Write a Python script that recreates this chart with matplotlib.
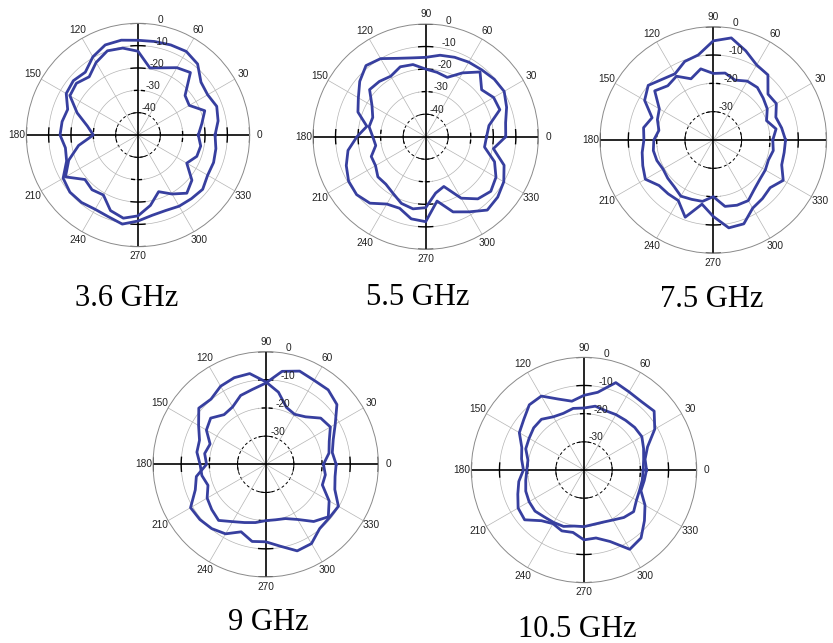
import numpy as np
import matplotlib.pyplot as plt

# measured angles (deg) for every pattern
angles = np.arange(0, 360, 10)

freq_labels = ["3.6 GHz", "5.5 GHz", "7.5 GHz", "9 GHz", "10.5 GHz"]
r_floor = [-50, -50, -40, -40, -40]

# normalised gain (dB), two cuts per frequency
g36_a = [-15.5, -13.6, -12.5, -14.0, -13.2, -8.5, -6.8, -7.1, -7.5, -7.6, -6.9, -7.1,
         -9.6, -13.3, -12.2, -12.9, -16.5, -15.5, -15.1, -17.0, -16.0, -11.3, -10.2, -10.6,
         -11.6, -11.1, -9.5, -11.5, -13.5, -14.0, -13.2, -12.8, -12.2, -14.0, -14.0, -14.6]
g36_b = [-23.0, -21.0, -18.2, -23.5, -22.5, -13.5, -15.2, -18.0, -19.5, -12.5, -10.5, -9.9,
         -12.5, -16.0, -14.0, -14.8, -21.0, -27.0, -30.0, -23.0, -17.0, -12.5, -19.0, -18.0,
         -19.0, -14.0, -12.2, -13.8, -18.0, -23.0, -19.5, -16.0, -18.5, -24.8, -22.0, -21.5]

g55_a = [-14.5, -14.0, -11.8, -9.8, -10.3, -11.3, -11.8, -12.5, -13.3, -14.8, -14.5, -13.0,
         -10.0, -8.8, -11.8, -15.5, -18.0, -23.5, -19.5, -15.0, -12.5, -10.5, -10.0, -11.5,
         -15.5, -16.2, -13.0, -12.3, -21.0, -14.5, -11.5, -7.5, -8.3, -10.0, -13.0, -19.5]
g55_b = [-23.0, -21.5, -15.0, -15.2, -17.6, -12.5, -17.3, -22.0, -21.0, -20.0, -17.5, -17.0,
         -19.0, -18.0, -17.5, -22.5, -25.0, -24.5, -26.5, -27.5, -24.3, -24.3, -22.3, -22.5,
         -21.0, -18.5, -17.5, -18.5, -24.6, -26.5, -18.5, -14.0, -12.3, -14.0, -17.5, -23.5]

g75_a = [-14.5, -15.5, -16.5, -14.3, -14.8, -10.0, -9.4, -6.5, -3.4, -5.0, -9.5, -10.5,
         -13.0, -12.0, -10.0, -12.0, -17.0, -15.0, -15.5, -14.5, -13.5, -12.3, -15.0, -15.2,
         -15.3, -11.0, -17.0, -13.0, -8.5, -8.5, -12.2, -13.0, -13.8, -11.5, -14.3, -14.6]
g75_b = [-19.0, -17.5, -20.0, -18.0, -17.0, -15.8, -16.0, -17.5, -16.0, -16.5, -14.5, -17.0,
         -14.0, -15.0, -13.0, -18.0, -19.0, -20.5, -19.0, -18.5, -18.8, -19.5, -19.0, -18.5,
         -17.1, -17.7, -18.0, -20.0, -16.2, -15.5, -15.3, -17.4, -18.5, -18.8, -19.3, -18.5]

g90_a = [-19.5, -17.2, -16.0, -13.5, -14.5, -18.0, -19.5, -18.5, -14.0, -10.7, -7.3, -7.3,
         -8.0, -9.8, -9.0, -12.5, -15.0, -15.2, -16.7, -17.0, -18.2, -16.0, -15.0, -14.0,
         -16.5, -18.0, -19.0, -20.0, -20.0, -19.5, -17.4, -13.5, -11.0, -14.0, -18.6, -18.5]
g90_b = [-15.0, -16.0, -14.5, -11.5, -7.0, -5.5, -5.6, -4.8, -6.5, -11.2, -13.0, -14.0,
         -16.5, -17.0, -14.5, -15.7, -19.0, -18.0, -19.0, -15.0, -13.4, -9.2, -9.5, -10.2,
         -11.5, -14.5, -12.2, -12.5, -10.5, -7.3, -7.5, -10.2, -10.5, -10.2, -13.9, -15.0]

g105_a = [-17.8, -18.0, -16.0, -11.0, -7.5, -8.3, -8.0, -7.0, -12.0, -13.5, -15.2, -13.2,
          -9.7, -9.8, -12.1, -13.5, -16.5, -17.5, -18.5, -16.5, -15.0, -13.0, -12.5, -16.5,
          -18.0, -17.0, -17.5, -15.2, -15.5, -13.0, -7.5, -8.5, -12.0, -15.0, -18.5, -18.3]
g105_b = [-19.0, -18.5, -17.5, -16.3, -16.5, -17.0, -17.3, -17.6, -17.0, -18.0, -17.8, -18.6,
          -18.2, -16.5, -16.7, -17.5, -18.0, -19.8, -19.7, -19.0, -18.0, -17.5, -17.3, -18.2,
          -18.5, -18.7, -19.8, -19.9, -20.4, -20.3, -19.5, -18.0, -17.0, -18.5, -19.0, -19.0]

curves = [(g36_a, g36_b), (g55_a, g55_b), (g75_a, g75_b), (g90_a, g90_b), (g105_a, g105_b)]

# panel centres and outer radius in pixels (from top-left)
W, H = 833, 643
centres = [(138, 135), (425.7, 136.7), (713.3, 140), (265.7, 464.3), (584, 470)]
radius = [111.7, 112.7, 113.3, 112.7, 112.7]
label_pos = [(126.5, 306), (418, 305), (712, 307), (268, 630), (577, 637)]
# angle labels that fall outside the original picture
hidden = [{90}, set(), {0}, set(), set()]

line_col = "#373f9f"
grid_col = "#b4b4b4"


def draw_panel(ax, rmin, pair, R, skip):
    ax.set_rlim(rmin, 0)
    ax.grid(False)
    ax.set_xticks([])
    ax.set_yticks([])
    ax.spines["polar"].set_color("#8a8a8a")
    ax.spines["polar"].set_linewidth(0.7)

    full = np.linspace(0, 2 * np.pi, 361)
    rings = list(range(rmin + 10, 0, 10))
    for i, r in enumerate(rings):
        if i == 0:
            ax.plot(full, np.full_like(full, r), color="k", lw=0.7, ls=(0, (3, 2.5)))
        else:
            ax.plot(full, np.full_like(full, r), color=grid_col, lw=0.5)
    for a in range(0, 360, 30):
        if a % 90:
            ax.plot([np.deg2rad(a)] * 2, [rmin, 0], color=grid_col, lw=0.5)
    for a in (0, 90, 180, 270):
        ax.plot([np.deg2rad(a)] * 2, [rmin, 0], color="k", lw=1.2)

    # tick marks where the rings cross the axes
    for i, r in enumerate(rings + [0]):
        rpx = R * (r - rmin) / (0 - rmin)
        half = 7.0 / rpx
        for a in (0, 90, 180, 270):
            t = np.linspace(np.deg2rad(a) - half, np.deg2rad(a) + half, 15)
            ls = (0, (3, 2)) if i == 1 else "-"
            ax.plot(t, np.full_like(t, r), color="k", lw=1.0 if i else 0.7, ls=ls)

    th = np.deg2rad(np.append(angles, 360))
    for g in pair:
        ax.plot(th, np.append(g, g[0]), color=line_col, lw=2.0, solid_joinstyle="round")

    # ring labels
    for r in rings + [0]:
        ax.text(np.deg2rad(80), r, str(r), ha="left", va="bottom", fontsize=7.3,
                family="Liberation Sans", color="#222222")
    # angle labels
    r_lab = rmin + 1.085 * (0 - rmin)
    for a in range(0, 360, 30):
        if a in skip:
            continue
        ax.text(np.deg2rad(a), r_lab, str(a), ha="center", va="center", fontsize=7.3,
                family="Liberation Sans", color="#222222")


fig = plt.figure(figsize=(W / 100, H / 100), dpi=100)
for k in range(5):
    cx, cy = centres[k]
    R = radius[k]
    rect = [(cx - R) / W, 1 - (cy + R) / H, 2 * R / W, 2 * R / H]
    ax = fig.add_axes(rect, projection="polar")
    draw_panel(ax, r_floor[k], curves[k], R, hidden[k])
    lx, ly = label_pos[k]
    fig.text(lx / W, 1 - ly / H, freq_labels[k], ha="center", va="baseline",
             fontsize=22, family="Liberation Serif")

fig.savefig("out.png", dpi=100)
